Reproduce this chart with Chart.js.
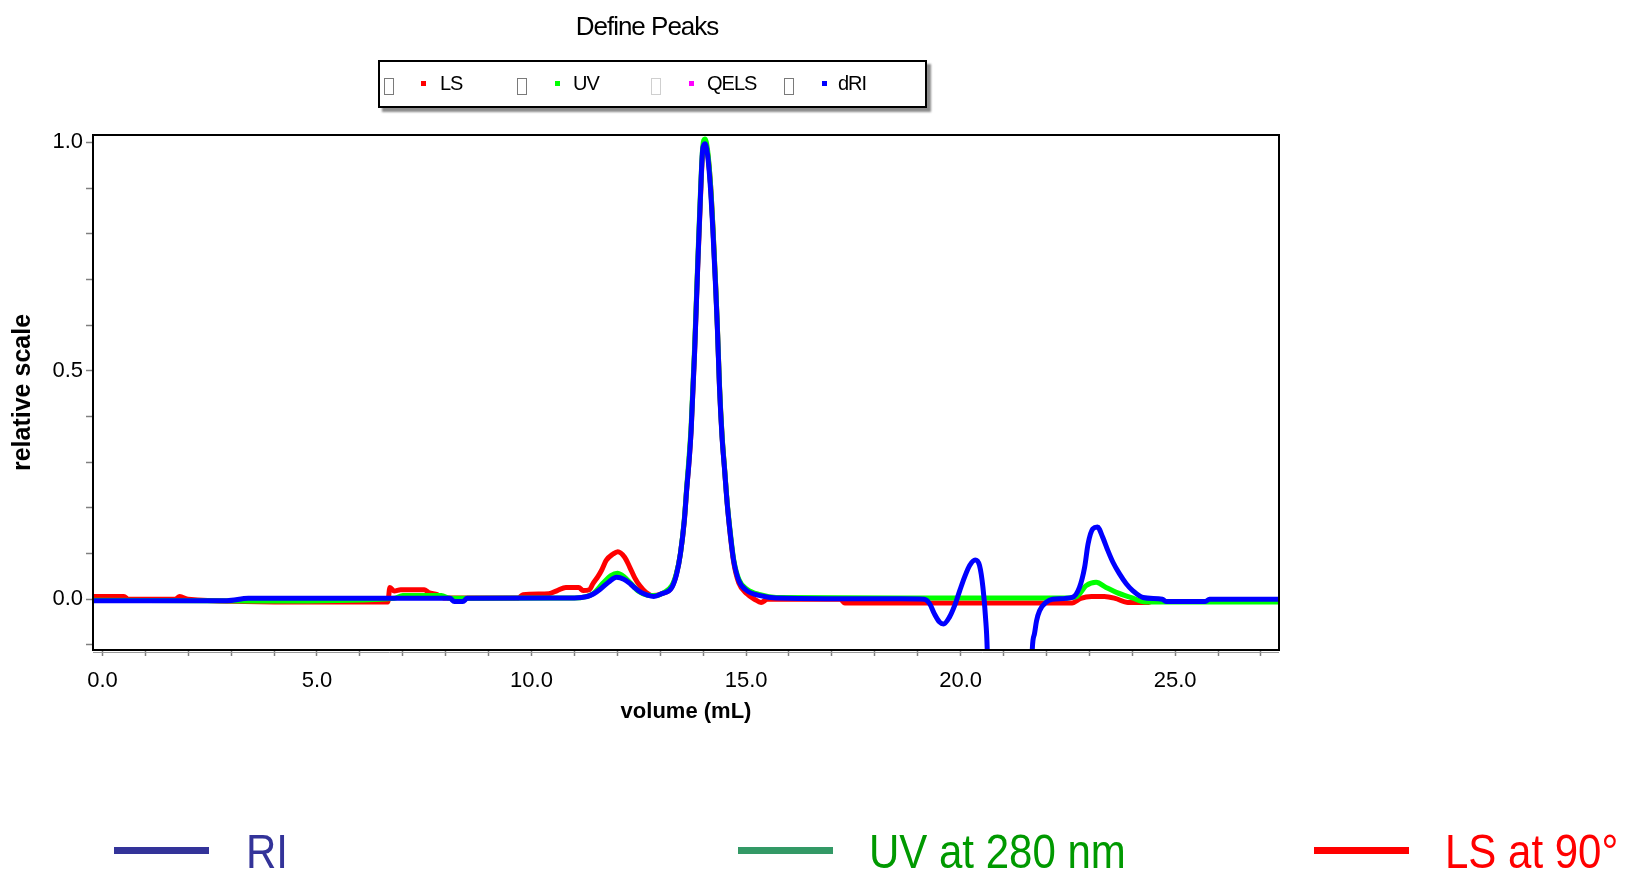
<!DOCTYPE html>
<html>
<head>
<meta charset="utf-8">
<script src="https://cdn.jsdelivr.net/npm/chart.js@4.4.1/dist/chart.umd.min.js"></script>
<style>
html,body{margin:0;padding:0;background:#fff;}
#wrap{position:relative;width:1627px;height:876px;overflow:hidden;font-family:'Liberation Sans',Arial,sans-serif;}
#c{position:absolute;left:0;top:0;}
.abs{position:absolute;white-space:nowrap;line-height:1;}
#title{left:447px;top:13px;width:400px;text-align:center;font-size:26px;letter-spacing:-1px;color:#000;}
#box{left:378px;top:60px;width:545px;height:44px;border:2px solid #000;background:#fff;box-shadow:4px 4px 2px #8c8c8c;}
.chk{position:absolute;width:8px;height:15px;border:1.5px solid #7a7a7a;top:78px;}
.sq{position:absolute;width:5px;height:5px;top:81px;}
.lt{position:absolute;top:73px;font-size:20px;letter-spacing:-1px;color:#000;line-height:1;}
.bl{position:absolute;height:7px;top:847px;width:95px;}
.bt{position:absolute;top:828px;font-size:48px;line-height:1;transform:scaleX(0.875);transform-origin:left top;white-space:nowrap;}
</style>
</head>
<body>
<div id="wrap">
<canvas id="c" width="1627" height="876"></canvas>
<div id="title" class="abs">Define Peaks</div>
<div id="box" class="abs"></div>
<span class="chk" style="left:384px"></span>
<span class="sq" style="left:421px;background:#ff0000"></span>
<span class="lt" style="left:440px">LS</span>
<span class="chk" style="left:517px"></span>
<span class="sq" style="left:555px;background:#00ff00"></span>
<span class="lt" style="left:573px">UV</span>
<span class="chk" style="left:651px;border-color:#cfcfcf"></span>
<span class="sq" style="left:689px;background:#ff00ff"></span>
<span class="lt" style="left:707px">QELS</span>
<span class="chk" style="left:784px"></span>
<span class="sq" style="left:822px;background:#0000ff"></span>
<span class="lt" style="left:838px">dRI</span>

<span class="bl" style="left:114px;background:#333399"></span>
<span class="bt" style="left:246px;color:#333399">RI</span>
<span class="bl" style="left:738px;background:#339966"></span>
<span class="bt" style="left:869px;color:#009900">UV at 280 nm</span>
<span class="bl" style="left:1314px;background:#ff0000"></span>
<span class="bt" style="left:1445px;color:#ff0000">LS at 90°</span>
</div>
<script>
// ---- data (volume mL, relative scale) ----
const riPoints = [[-0.22,-0.003],[2.9,-0.003],[3.4,0.002],[8.1,0.002],[8.2,-0.005],[8.4,-0.005],[8.5,0.002],[11.0,0.003],[11.3,0.006],[11.45,0.012],[11.6,0.022],[11.8,0.038],[11.98,0.048],[12.15,0.044],[12.3,0.034],[12.42,0.024],[12.55,0.015],[12.7,0.009],[12.85,0.006],[13.03,0.012],[13.27,0.026],[13.38,0.055],[13.47,0.10],[13.56,0.172],[13.62,0.245],[13.67,0.30],[13.72,0.37],[13.8,0.54],[13.87,0.72],[13.93,0.866],[13.99,0.985],[14.04,0.997],[14.1,0.975],[14.17,0.9],[14.23,0.8],[14.29,0.683],[14.33,0.596],[14.38,0.464],[14.44,0.355],[14.5,0.282],[14.56,0.209],[14.64,0.136],[14.71,0.085],[14.83,0.041],[15.02,0.019],[15.33,0.008],[15.7,0.003],[18.6,0.001],[19.15,0.0],[19.28,-0.01],[19.39,-0.032],[19.51,-0.05],[19.6,-0.054],[19.74,-0.039],[19.86,-0.014],[19.98,0.019],[20.09,0.048],[20.21,0.074],[20.34,0.086],[20.44,0.074],[20.52,0.026],[20.58,-0.039],[20.62,-0.11],[20.68,-0.4],[21.6,-0.4],[21.67,-0.11],[21.72,-0.076],[21.77,-0.047],[21.84,-0.025],[21.99,-0.007],[22.14,0.0],[22.6,0.004],[22.77,0.026],[22.89,0.07],[22.97,0.121],[23.08,0.154],[23.19,0.158],[23.31,0.136],[23.43,0.107],[23.55,0.081],[23.7,0.056],[23.86,0.034],[24.01,0.019],[24.25,0.004],[24.7,0.0],[24.8,-0.005],[25.7,-0.005],[25.8,0.0],[27.45,0.0]];

const uvPoints = [[-0.22,-0.002],[3.5,-0.004],[4.4,-0.004],[6.8,0.002],[7.0,0.008],[7.9,0.008],[8.1,0.002],[11.0,0.003],[11.43,0.012],[11.66,0.035],[11.85,0.052],[12.0,0.057],[12.15,0.05],[12.3,0.036],[12.5,0.017],[12.7,0.009],[12.9,0.008],[13.05,0.013],[13.27,0.03],[13.38,0.058],[13.47,0.10],[13.56,0.175],[13.62,0.25],[13.67,0.31],[13.72,0.38],[13.8,0.55],[13.87,0.73],[13.93,0.875],[13.99,0.99],[14.04,1.007],[14.1,0.985],[14.17,0.91],[14.23,0.81],[14.29,0.69],[14.33,0.60],[14.38,0.47],[14.44,0.36],[14.5,0.285],[14.56,0.212],[14.64,0.14],[14.71,0.088],[14.83,0.044],[15.02,0.022],[15.33,0.01],[15.7,0.004],[18.6,0.003],[22.4,0.003],[22.7,0.006],[22.93,0.03],[23.16,0.037],[23.39,0.026],[23.63,0.015],[24.0,0.003],[24.3,-0.006],[27.45,-0.006]];

const lsPoints = [[-0.22,0.006],[0.5,0.006],[0.6,0.0],[1.7,0.0],[1.8,0.006],[2.0,0.0],[4.4,-0.006],[6.65,-0.006],[6.7,0.026],[6.8,0.018],[6.95,0.021],[7.5,0.021],[7.6,0.015],[7.8,0.01],[7.95,0.003],[9.7,0.003],[9.8,0.01],[10.4,0.012],[10.6,0.019],[10.8,0.026],[11.1,0.026],[11.2,0.019],[11.35,0.021],[11.43,0.034],[11.55,0.05],[11.63,0.063],[11.74,0.085],[11.9,0.099],[12.01,0.104],[12.17,0.092],[12.29,0.07],[12.4,0.048],[12.52,0.03],[12.67,0.015],[12.83,0.008],[13.03,0.012],[13.27,0.027],[13.38,0.056],[13.47,0.10],[13.56,0.17],[13.62,0.245],[13.67,0.30],[13.72,0.37],[13.8,0.54],[13.87,0.72],[13.93,0.86],[13.99,0.98],[14.04,0.995],[14.1,0.978],[14.17,0.91],[14.23,0.81],[14.29,0.69],[14.33,0.6],[14.38,0.468],[14.44,0.358],[14.5,0.284],[14.56,0.21],[14.64,0.134],[14.71,0.082],[14.83,0.036],[15.02,0.012],[15.2,0.0],[15.35,-0.007],[15.5,0.0],[17.2,0.0],[17.3,-0.008],[22.6,-0.008],[22.8,0.002],[23.05,0.006],[23.35,0.006],[23.6,0.002],[23.9,-0.007],[24.35,-0.007],[24.45,-0.005],[27.45,-0.005]];

const xTickValues = [0,1,2,3,4,5,6,7,8,9,10,11,12,13,14,15,16,17,18,19,20,21,22,23,24,25,26,27];
const xLabelValues = [0,5,10,15,20,25];
const xTickLabels = ['0.0','5.0','10.0','15.0','20.0','25.0'];
const yTickValues = [-0.1,0,0.1,0.2,0.3,0.4,0.5,0.6,0.7,0.8,0.9,1.0];
const yLabelValues = [0,0.5,1.0];
const yTickLabels = ['0.0','0.5','1.0'];

const toXY = pts => pts.map(p => ({x: p[0], y: p[1]}));
const labelOf = (vals, labels, v) => {
  const i = vals.findIndex(t => Math.abs(t - v) < 1e-6);
  return i >= 0 ? labels[i] : '';
};

Chart.defaults.font.family = "'Liberation Sans', Arial, sans-serif";
Chart.defaults.color = '#000';

const framePlugin = {
  id: 'frame',
  afterDatasetsDraw(chart) {
    const {ctx, chartArea: a} = chart;
    ctx.save();
    ctx.strokeStyle = '#000';
    ctx.lineWidth = 2;
    ctx.strokeRect(a.left, a.top, a.right - a.left, a.bottom - a.top);
    ctx.strokeStyle = '#9a9a9a';
    ctx.lineWidth = 1;
    ctx.beginPath();
    ctx.moveTo(a.left, a.bottom + 2.5);
    ctx.lineTo(a.right, a.bottom + 2.5);
    ctx.stroke();
    ctx.restore();
  }
};

const common = {pointRadius: 0, borderWidth: 5, cubicInterpolationMode: 'monotone', clip: 0, fill: false};

new Chart(document.getElementById('c'), {
  type: 'line',
  data: {
    datasets: [
      Object.assign({label: 'dRI', data: toXY(riPoints), borderColor: '#0000ff'}, common),
      Object.assign({label: 'UV', data: toXY(uvPoints), borderColor: '#00ff00'}, common),
      Object.assign({label: 'LS', data: toXY(lsPoints), borderColor: '#ff0000'}, common)
    ]
  },
  options: {
    responsive: false,
    animation: false,
    events: [],
    layout: {padding: {left: 0, right: 348, top: 135, bottom: 151}},
    plugins: {legend: {display: false}, tooltip: {enabled: false}, title: {display: false}},
    scales: {
      x: {
        type: 'linear',
        min: -0.22,
        max: 27.42,
        afterBuildTicks: s => { s.ticks = xTickValues.map(v => ({value: v})); },
        afterFit: s => { s.height = 75; },
        ticks: {
          autoSkip: false, maxRotation: 0, minRotation: 0, padding: 12,
          font: {size: 22}, color: '#000',
          callback: v => labelOf(xLabelValues, xTickLabels, v)
        },
        grid: {drawOnChartArea: false, drawTicks: true, tickLength: 6, tickColor: '#808080', tickWidth: 1.5},
        border: {display: false},
        title: {display: true, text: 'volume (mL)', font: {size: 22, weight: 'bold'}, color: '#000', padding: {top: 0, bottom: 0}}
      },
      y: {
        type: 'linear',
        min: -0.111,
        max: 1.016,
        afterBuildTicks: s => { s.ticks = yTickValues.map(v => ({value: v})); },
        afterFit: s => { s.width = 93; },
        ticks: {
          autoSkip: false, padding: 3,
          font: {size: 22}, color: '#000',
          callback: v => labelOf(yLabelValues, yTickLabels, v)
        },
        grid: {drawOnChartArea: false, drawTicks: true, tickLength: 7, tickColor: '#808080', tickWidth: 1.5},
        border: {display: false},
        title: {display: true, text: 'relative scale', font: {size: 25, weight: 'bold'}, color: '#000', padding: {top: 8, bottom: 0}}
      }
    }
  },
  plugins: [framePlugin]
});
</script>
</body>
</html>
